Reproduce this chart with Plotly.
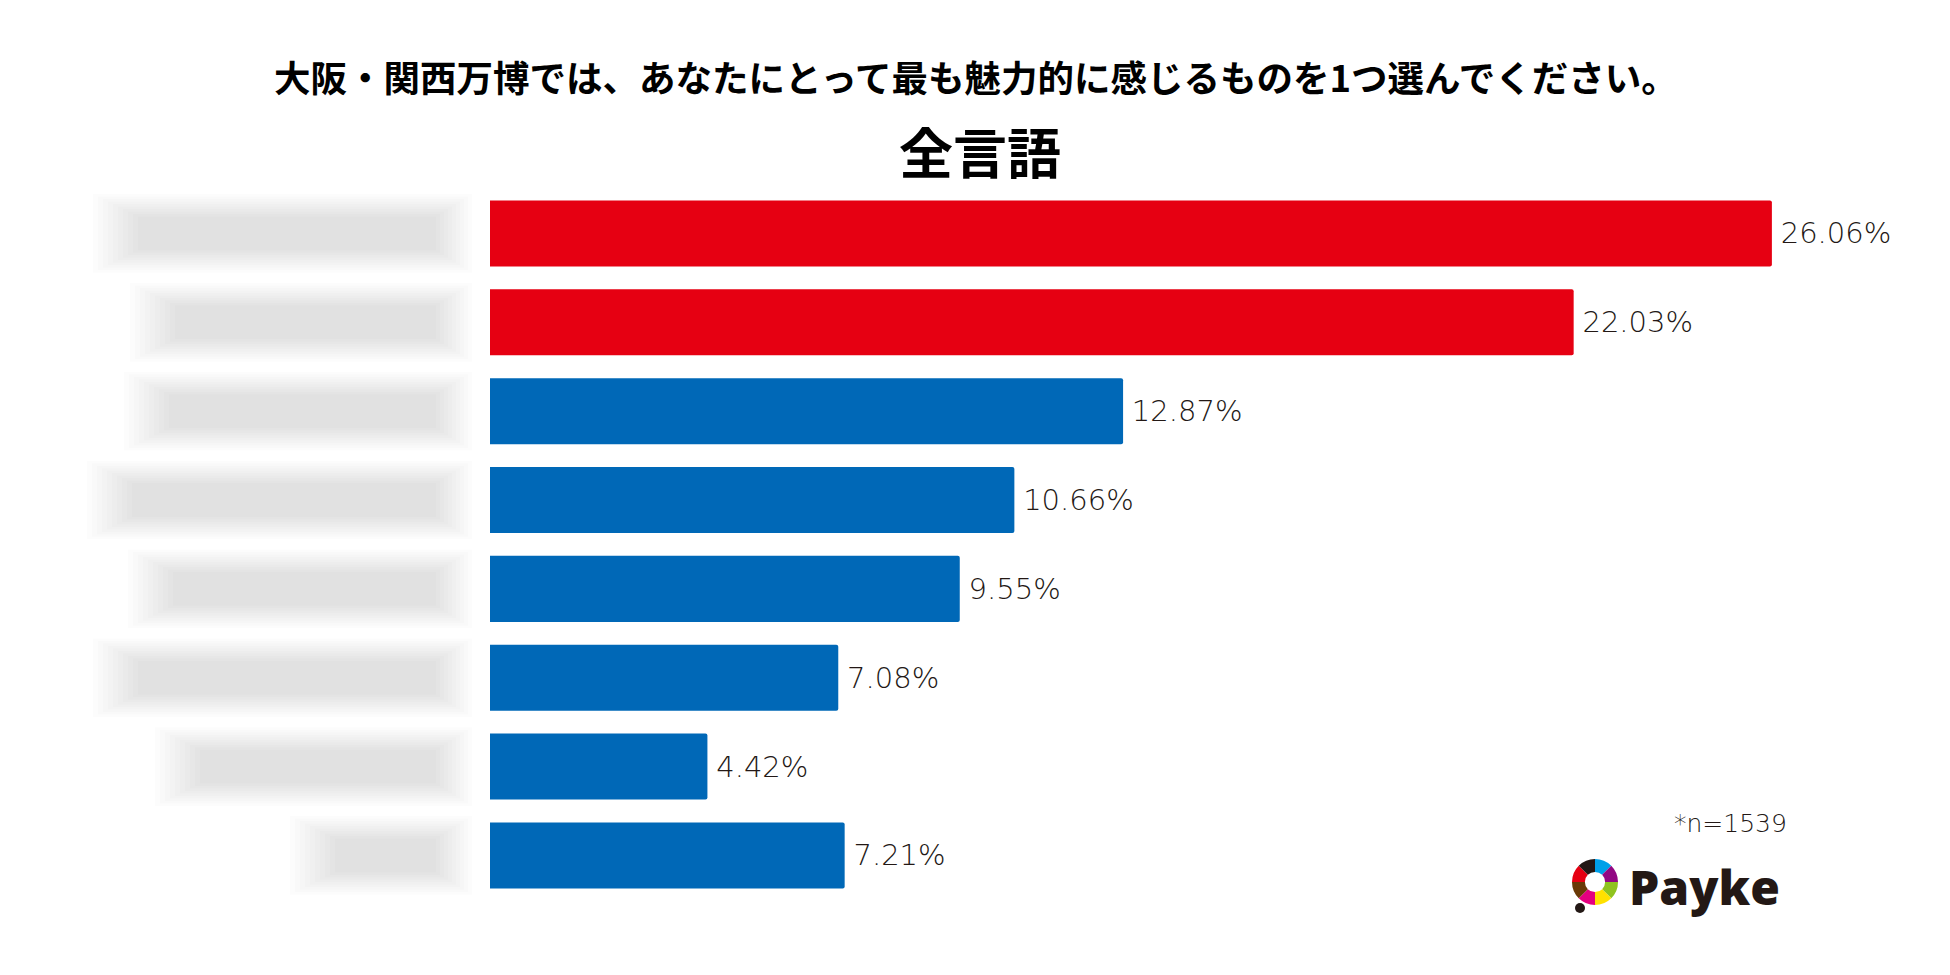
import plotly.graph_objects as go

# ---- data ----
categories = ["選択肢1", "選択肢2", "選択肢3", "選択肢4", "選択肢5", "選択肢6", "選択肢7", "選択肢8"]
values = [26.06, 22.03, 12.87, 10.66, 9.55, 7.08, 4.42, 7.21]
bar_colors = ["#E60012", "#E60012", "#0068B7", "#0068B7", "#0068B7", "#0068B7", "#0068B7", "#0068B7"]
title_main = "大阪・関西万博では、あなたにとって最も魅力的に感じるものを1つ選んでください。"
title_sub = "全言語"
n_note = "*n=1539"
brand = "Payke"
logo_colors = ["#00A0E9", "#920783", "#8FC31F", "#FFE100", "#E4007F", "#6A3906", "#E60012", "#231815"]
logo_values = [1, 1, 1, 1, 1, 1, 1, 1]
# left pixel edge of each (blurred, unreadable) category label
label_blur_left = [93, 130, 124, 87, 128, 93, 155, 290]

# page has an 8px body margin; page coords = figure coords + 8
OFF = 8
W, H = 1950, 975
ML, MR, MT, MB = 490 - OFF, 50 + OFF, 189 - OFF, 40 + OFF
PW, PH = W - ML - MR, H - MT - MB


def px(x):
    return (x - OFF - ML) / PW


def py(y):
    return (H - MB - (y - OFF)) / PH


LIGHT = dict(family="DejaVu Sans Light, DejaVu Sans ExtraLight, DejaVu Sans, sans-serif",
             color="#231815", weight=200)

fig = go.Figure()

fig.add_trace(go.Bar(
    y=categories,
    x=values,
    orientation="h",
    marker=dict(color=bar_colors, line=dict(width=0), cornerradius=2),
    texttemplate="\u2009%{x:.2f}%",
    textposition="outside",
    constraintext="none",
    cliponaxis=False,
    outsidetextfont=dict(size=29, **LIGHT),
    hoverinfo="skip",
    showlegend=False,
))

# logo ring
fig.add_trace(go.Pie(
    values=logo_values,
    marker=dict(colors=logo_colors, line=dict(width=0)),
    hole=0.44,
    sort=False,
    direction="clockwise",
    rotation=0,
    textinfo="none",
    hoverinfo="skip",
    showlegend=False,
    domain=dict(x=[px(1572), px(1618)], y=[py(905), py(859)]),
))

shapes = []
# blurred label placeholders
for i, left in enumerate(label_blur_left):
    for k in range(10):
        shapes.append(dict(
            type="rect", xref="paper", yref="y", layer="below",
            x0=px(left + k * 5), x1=px(472 - k * 4),
            y0=i - 0.44 + k * 0.028, y1=i + 0.44 - k * 0.028,
            fillcolor="#9c9ca6", opacity=0.03, line=dict(width=0),
        ))
# logo dot
shapes.append(dict(
    type="circle", xref="paper", yref="paper",
    x0=px(1575), x1=px(1585), y0=py(913), y1=py(903),
    fillcolor="#231815", line=dict(width=0),
))

annotations = [
    dict(text=f"<b>{title_main}</b>", xref="paper", yref="paper", x=px(976), y=py(77),
         showarrow=False, xanchor="center", yanchor="middle",
         font=dict(family="Noto Sans CJK JP", size=36.5, color="#000000", weight=900)),
    dict(text=f"<b>{title_sub}</b>", xref="paper", yref="paper", x=px(980), y=py(150),
         showarrow=False, xanchor="center", yanchor="middle",
         font=dict(family="Noto Sans CJK JP", size=54, color="#000000", weight=900)),
    dict(text=n_note, xref="paper", yref="paper", x=px(1730), y=py(823),
         showarrow=False, xanchor="center", yanchor="middle",
         font=dict(size=25, **LIGHT)),
    dict(text=brand, xref="paper", yref="paper", x=px(1627), y=py(886),
         showarrow=False, xanchor="left", yanchor="middle",
         font=dict(family="Open Sans, sans-serif", size=48, color="#231815", weight=800)),
]

fig.update_layout(
    width=W, height=H,
    margin=dict(l=ML, r=MR, t=MT, b=MB),
    paper_bgcolor="white", plot_bgcolor="white",
    bargap=0.257,
    xaxis=dict(range=[0, PW / 49.19], visible=False),
    yaxis=dict(type="category", categoryorder="array", categoryarray=categories,
               range=[(PH / 88.86) - 0.5, -0.5], showticklabels=False,
               showgrid=False, zeroline=False, showline=False, ticks=""),
    shapes=shapes,
    annotations=annotations,
)

fig.write_html("out.html")
